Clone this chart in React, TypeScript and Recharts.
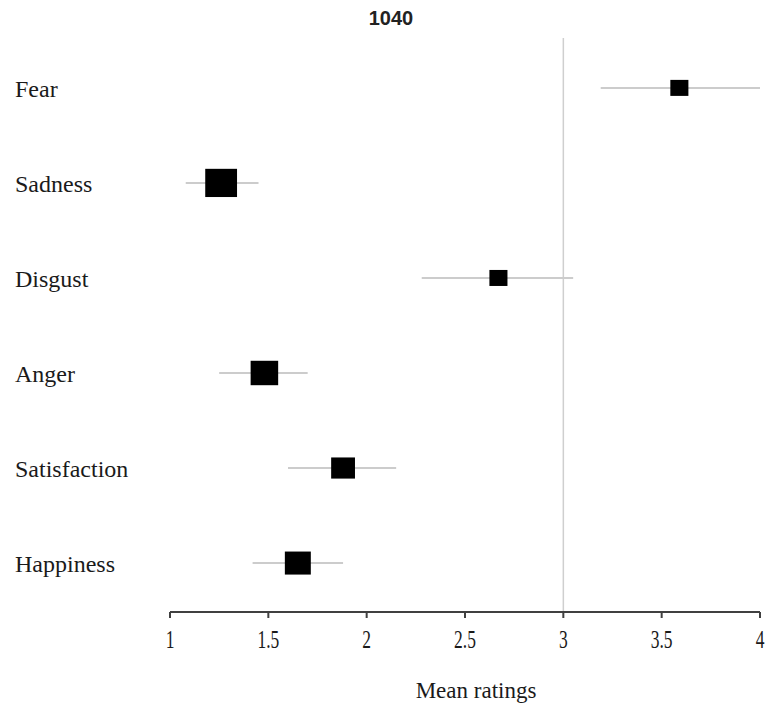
import {
  ErrorBar,
  ReferenceLine,
  Scatter,
  ScatterChart,
  XAxis,
  YAxis,
  ZAxis,
} from 'recharts';

const emotions = ['Fear', 'Sadness', 'Disgust', 'Anger', 'Satisfaction', 'Happiness'];
const means = [3.59, 1.26, 2.67, 1.48, 1.88, 1.65];
const lower = [3.19, 1.08, 2.28, 1.25, 1.6, 1.42];
const upper = [4.0, 1.45, 3.05, 1.7, 2.15, 1.88];
const weights = [8.9, 27.6, 8.9, 20.7, 15.5, 18.4]; // % weight
const xTicks = [1, 1.5, 2, 2.5, 3, 3.5, 4];

const rows = emotions.map((name, i) => ({
  name,
  row: emotions.length - i,
  mean: means[i],
  weight: weights[i],
  ci: [means[i] - lower[i], upper[i] - means[i]],
}));

const serif = '"Liberation Serif", "Times New Roman", serif';

function Square(props: any) {
  const { cx, cy, size } = props;
  const s = Math.sqrt(size);
  const w = s * 1.06;
  const h = s * 0.94;
  return <rect x={cx - w / 2} y={cy - h / 2} width={w} height={h} fill="#000" />;
}

function RowLabel(props: any) {
  const { y, payload } = props;
  const name = emotions[emotions.length - payload.value];
  return (
    <text x={15} y={y + 9} textAnchor="start" fontFamily={serif} fontSize={24} fill="#1a1a1a">
      {name}
    </text>
  );
}

function XTick(props: any) {
  const { x, y, payload } = props;
  return (
    <g transform={`translate(${x},${y + 24}) scale(0.7,1)`}>
      <text x={0} y={0} textAnchor="middle" fontFamily={serif} fontSize={25} fill="#1a1a1a">
        {payload.value}
      </text>
    </g>
  );
}

export default function App() {
  return (
    <div style={{ position: 'absolute', left: 0, top: 0, width: 767, height: 706, background: '#fff' }}>
      <div
        style={{
          position: 'absolute',
          left: 341,
          width: 100,
          top: 7,
          textAlign: 'center',
          fontFamily: '"Liberation Sans", Arial, sans-serif',
          fontWeight: 'bold',
          fontSize: 20,
          color: '#222',
        }}
      >
        1040
      </div>
      <ScatterChart width={767} height={706} margin={{ top: 38, right: 7, bottom: 0, left: 0 }}>
        <XAxis
          type="number"
          dataKey="mean"
          domain={[1, 4]}
          ticks={xTicks}
          height={94}
          axisLine={{ stroke: '#404040', strokeWidth: 2 }}
          tickLine={{ stroke: '#404040', strokeWidth: 2 }}
          tickSize={6}
          tickMargin={6}
          tick={<XTick />}
          label={{
            value: 'Mean ratings',
            position: 'insideBottom',
            offset: 8,
            dx: 11,
            style: { fontFamily: serif, fontSize: 23, fill: '#1a1a1a' },
          }}
        />
        <YAxis
          type="number"
          dataKey="row"
          domain={[0.485, 6.525]}
          ticks={[1, 2, 3, 4, 5, 6]}
          width={170}
          axisLine={false}
          tickLine={false}
          tick={<RowLabel />}
        />
        <ZAxis type="number" dataKey="weight" domain={[0, 27.6]} range={[0, 900]} />
        <ReferenceLine x={3} stroke="#cfcfcf" strokeWidth={1.5} />
        <Scatter data={rows} shape={<Square />} isAnimationActive={false}>
          <ErrorBar dataKey="ci" direction="x" width={0} stroke="#cccccc" strokeWidth={2} />
        </Scatter>
      </ScatterChart>
    </div>
  );
}
